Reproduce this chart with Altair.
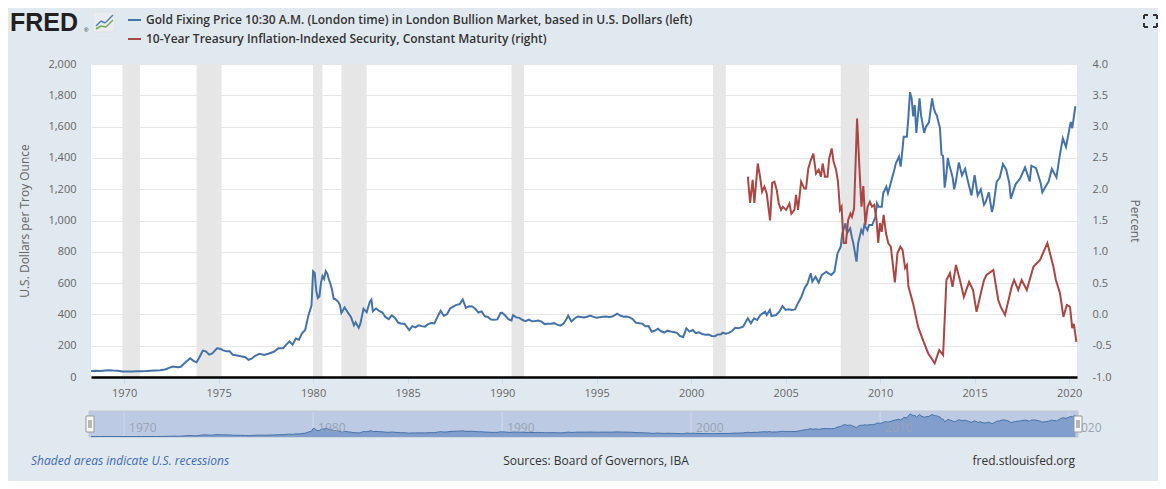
import altair as alt
import pandas as pd

# ---------------- data ----------------
gold_dates = [
    "1968-04", "1968-07", "1968-10",
    "1969-01", "1969-03", "1969-06", "1969-09", "1969-12",
    "1970-03", "1970-06", "1970-09", "1970-12",
    "1971-03", "1971-06", "1971-09", "1971-12",
    "1972-03", "1972-06", "1972-08", "1972-11",
    "1973-01", "1973-03", "1973-05", "1973-07", "1973-09", "1973-11",
    "1974-01", "1974-03", "1974-05", "1974-07", "1974-09", "1974-12",
    "1975-02", "1975-04", "1975-06", "1975-08", "1975-10", "1975-12",
    "1976-03", "1976-06", "1976-08", "1976-10", "1976-12",
    "1977-03", "1977-06", "1977-09", "1977-12",
    "1978-03", "1978-06", "1978-08", "1978-10", "1978-12",
    "1979-02", "1979-04", "1979-06", "1979-08", "1979-10", "1979-12",
    "1980-01", "1980-02", "1980-03", "1980-04", "1980-05", "1980-06",
    "1980-07", "1980-08", "1980-09", "1980-10", "1980-11", "1980-12",
    "1981-01", "1981-02", "1981-03", "1981-05", "1981-06", "1981-07", "1981-09", "1981-11",
    "1982-01", "1982-03", "1982-04", "1982-06", "1982-07", "1982-09", "1982-11",
    "1983-01", "1983-02", "1983-03", "1983-05", "1983-07", "1983-09", "1983-11",
    "1984-01", "1984-03", "1984-05", "1984-07", "1984-09", "1984-11",
    "1985-02", "1985-04", "1985-06", "1985-08", "1985-10", "1985-12",
    "1986-02", "1986-04", "1986-06", "1986-08", "1986-10", "1986-12",
    "1987-02", "1987-04", "1987-06", "1987-08", "1987-10", "1987-12",
    "1988-02", "1988-04", "1988-06", "1988-08", "1988-10", "1988-12",
    "1989-02", "1989-04", "1989-06", "1989-08", "1989-10", "1989-12",
    "1990-01", "1990-03", "1990-05", "1990-07", "1990-08", "1990-10", "1990-12",
    "1991-02", "1991-04", "1991-06", "1991-08", "1991-10", "1991-12",
    "1992-02", "1992-04", "1992-06", "1992-08", "1992-10", "1992-12",
    "1993-02", "1993-04", "1993-06", "1993-07", "1993-09", "1993-11",
    "1994-01", "1994-03", "1994-05", "1994-07", "1994-09", "1994-11",
    "1995-01", "1995-03", "1995-05", "1995-07", "1995-09", "1995-11",
    "1996-02", "1996-04", "1996-06", "1996-08", "1996-10", "1996-12",
    "1997-02", "1997-04", "1997-06", "1997-08", "1997-10", "1997-12",
    "1998-02", "1998-04", "1998-06", "1998-08", "1998-10", "1998-12",
    "1999-02", "1999-04", "1999-06", "1999-08", "1999-10", "1999-12",
    "2000-02", "2000-04", "2000-06", "2000-08", "2000-10", "2000-12",
    "2001-02", "2001-04", "2001-06", "2001-08", "2001-09", "2001-11",
    "2002-01", "2002-03", "2002-05", "2002-07", "2002-10",
    "2003-01", "2003-03", "2003-05", "2003-07", "2003-09", "2003-12",
    "2004-01", "2004-03", "2004-04", "2004-07", "2004-09", "2004-11",
    "2005-01", "2005-03", "2005-05", "2005-07", "2005-09", "2005-11",
    "2006-01", "2006-03", "2006-05", "2006-06", "2006-08", "2006-10", "2006-12",
    "2007-03", "2007-04", "2007-06", "2007-08", "2007-10", "2007-12",
    "2008-01", "2008-03", "2008-04", "2008-06", "2008-07", "2008-08", "2008-10", "2008-11",
    "2009-01", "2009-02", "2009-03", "2009-05", "2009-06", "2009-08", "2009-10", "2009-11", "2009-12",
    "2010-02", "2010-03", "2010-05", "2010-06", "2010-08", "2010-10", "2010-11",
    "2011-01", "2011-02", "2011-03", "2011-04", "2011-06", "2011-07",
    "2011-08", "2011-09", "2011-10", "2011-11", "2011-12",
    "2012-02", "2012-03", "2012-05", "2012-06", "2012-08", "2012-10", "2012-11", "2012-12",
    "2013-01", "2013-02", "2013-03", "2013-04", "2013-05", "2013-06",
    "2013-07", "2013-08", "2013-09", "2013-10", "2013-11", "2013-12",
    "2014-01", "2014-03", "2014-05", "2014-07", "2014-09", "2014-11",
    "2015-01", "2015-03", "2015-05", "2015-07", "2015-08", "2015-10", "2015-12",
    "2016-01", "2016-03", "2016-05", "2016-07", "2016-09", "2016-11", "2016-12",
    "2017-03", "2017-06", "2017-09", "2017-12",
    "2018-01", "2018-04", "2018-07", "2018-08", "2018-10", "2018-12",
    "2019-02", "2019-05", "2019-07", "2019-09", "2019-11",
    "2020-02", "2020-03", "2020-05",
]
gold_values = [
    38, 40, 39,
    42, 43, 41, 40, 35,
    35, 35, 36, 37,
    38, 40, 42, 43,
    48, 60, 67, 63,
    65, 84, 102, 120, 103, 94,
    130, 168, 164, 143, 151, 183,
    180, 170, 164, 165, 142, 139,
    132, 126, 110, 117, 134,
    148, 141, 150, 161,
    183, 183, 207, 227, 207,
    246, 238, 279, 300, 392, 456,
    675, 665, 553, 505, 514, 600,
    645, 627, 677, 661, 623, 595,
    557, 500, 499, 480, 461, 409, 444, 413,
    384, 330, 350, 315, 339, 435, 414,
    481, 495, 420, 438, 422, 412, 382,
    370, 394, 377, 348, 341, 341,
    300, 325, 317, 330, 325, 322,
    338, 345, 343, 384, 423, 391,
    401, 438, 450, 461, 465, 496,
    442, 452, 451, 436, 412, 419,
    388, 384, 367, 366, 368, 409,
    410, 393, 369, 362, 395, 381, 378,
    364, 357, 367, 356, 358, 361,
    354, 338, 340, 340, 344, 335,
    328, 342, 372, 392, 355, 374,
    387, 384, 381, 385, 392, 384,
    379, 382, 385, 386, 383, 386,
    405, 393, 385, 387, 381, 369,
    346, 344, 341, 324, 325, 289,
    297, 308, 292, 284, 296, 291,
    287, 282, 262, 256, 311, 290,
    300, 280, 285, 275, 270, 272,
    262, 261, 271, 273, 283, 276,
    282, 294, 314, 311, 321,
    375, 343, 375, 364, 396, 417,
    396, 428, 390, 396, 417, 453,
    428, 432, 428, 432, 475, 513,
    567, 599, 663, 609, 641, 603, 652,
    673, 663, 652, 673, 790, 833,
    918, 982, 918, 950, 897, 854, 737, 854,
    939, 918, 971, 939, 971, 971, 1024, 1110, 1088,
    1088, 1174, 1216, 1174, 1248, 1323, 1365,
    1408, 1344, 1429, 1535, 1535, 1663,
    1820, 1780, 1665, 1738, 1560,
    1780, 1673, 1560, 1596, 1627, 1780, 1721, 1688,
    1671, 1627, 1593, 1420, 1414, 1210,
    1286, 1400, 1349, 1316, 1275, 1200,
    1244, 1370, 1288, 1330, 1239, 1160,
    1290, 1160, 1199, 1100, 1117, 1180, 1055,
    1097, 1246, 1275, 1360, 1326, 1238, 1140,
    1231, 1270, 1340, 1250,
    1350, 1334, 1238, 1180, 1215, 1250,
    1330, 1275, 1410, 1525, 1470,
    1630, 1590, 1730,
]

tips_dates = [
    "2003-01-01", "2003-02-14", "2003-04-04", "2003-05-07", "2003-07-12", "2003-08-25",
    "2003-10-04", "2003-11-17",
    "2004-01-01", "2004-03-06", "2004-04-15", "2004-05-29", "2004-07-12", "2004-08-21",
    "2004-10-04", "2004-11-07",
    "2005-01-11", "2005-03-14", "2005-04-22", "2005-06-20", "2005-07-20", "2005-08-29",
    "2005-10-27", "2005-12-28",
    "2006-01-30", "2006-03-14", "2006-05-04", "2006-06-20", "2006-08-10", "2006-10-01",
    "2006-11-14", "2006-12-17",
    "2007-01-30", "2007-03-21", "2007-04-22", "2007-06-10", "2007-07-15", "2007-09-02",
    "2007-10-09", "2007-11-17", "2007-12-17",
    "2008-01-26", "2008-03-10", "2008-04-23", "2008-06-06", "2008-07-05", "2008-08-15",
    "2008-10-12", "2008-11-25",
    "2009-01-05", "2009-02-10", "2009-03-21", "2009-05-04", "2009-06-17", "2009-07-27",
    "2009-09-09", "2009-10-23", "2009-11-25", "2009-12-28",
    "2010-01-30", "2010-03-10", "2010-04-23", "2010-06-06", "2010-07-27", "2010-10-12",
    "2010-12-02",
    "2011-01-26", "2011-03-10", "2011-04-27", "2011-06-02", "2011-07-01", "2011-09-28",
    "2012-01-05", "2012-04-08", "2012-07-16", "2012-11-20",
    "2013-02-15", "2013-05-01", "2013-07-05", "2013-09-10", "2013-10-31",
    "2014-01-05", "2014-03-22", "2014-06-07", "2014-09-16", "2014-12-01",
    "2015-02-07", "2015-05-15", "2015-07-01", "2015-08-18", "2015-12-28",
    "2016-04-01", "2016-05-20", "2016-08-10", "2016-12-16",
    "2017-02-01", "2017-04-22", "2017-06-28", "2017-10-05",
    "2018-02-10", "2018-06-18", "2018-11-06",
    "2019-03-03", "2019-04-20", "2019-07-08", "2019-09-12", "2019-11-17",
    "2020-01-18", "2020-03-01", "2020-04-01", "2020-05-20",
]
tips_values = [
    2.20, 1.78, 2.15, 1.78, 2.41, 2.20,
    1.96, 2.04,
    1.93, 1.50, 2.10, 2.12, 1.99, 1.77,
    1.67, 1.72,
    1.67, 1.77, 1.61, 1.67, 1.91, 1.67,
    2.12, 2.01,
    2.01, 2.33, 2.47, 2.57, 2.25, 2.31,
    2.20, 2.41,
    2.20, 2.20, 2.49, 2.65, 2.44, 2.31,
    2.12, 1.67, 1.72,
    1.14, 1.14, 1.51, 1.61, 1.56, 1.69,
    3.13, 2.36,
    1.72, 2.05, 1.43, 1.72, 1.80, 1.72,
    1.75, 1.51, 1.14, 1.46,
    1.32, 1.59, 1.30, 1.14, 1.08, 0.51,
    0.98,
    1.08, 1.03, 0.74, 0.79, 0.45, 0.18,
    -0.20, -0.41, -0.62, -0.78,
    -0.57, -0.65, 0.55, 0.66, 0.44,
    0.79, 0.55, 0.28, 0.52, 0.39,
    0.04, 0.39, 0.55, 0.63, 0.71,
    0.23, 0.12, -0.01, 0.44,
    0.55, 0.39, 0.55, 0.39,
    0.76, 0.87, 1.14,
    0.76, 0.55, 0.34, -0.04, 0.15,
    0.12, -0.22, -0.15, -0.44,
]

rec_start = ["1969-12-01", "1973-11-01", "1980-01-01", "1981-07-01", "1990-07-01", "2001-03-01", "2007-12-01"]
rec_end = ["1970-11-01", "1975-03-01", "1980-07-01", "1982-11-01", "1991-03-01", "2001-11-01", "2009-06-01"]

axis_years = [1970, 1975, 1980, 1985, 1990, 1995, 2000, 2005, 2010, 2015, 2020]
nav_years = [1970, 1980, 1990, 2000, 2010, 2020]
gold_ticks = [0, 200, 400, 600, 800, 1000, 1200, 1400, 1600, 1800, 2000]
pct_ticks = [-1.0, -0.5, 0.0, 0.5, 1.0, 1.5, 2.0, 2.5, 3.0, 3.5, 4.0]

assert len(gold_dates) == len(gold_values)
assert len(tips_dates) == len(tips_values)

gold_df = pd.DataFrame({"date": pd.to_datetime(gold_dates), "value": gold_values})
tips_df = pd.DataFrame({"date": pd.to_datetime(tips_dates), "pct": tips_values})
rec_df = pd.DataFrame({"date": pd.to_datetime(rec_start), "end": pd.to_datetime(rec_end)})
nav_df = pd.DataFrame({"date": pd.to_datetime([f"{y}-01-01" for y in nav_years]),
                       "label": [str(y) for y in nav_years]})

# ---------------- styling ----------------
W, H = 986, 313
BG = "#E1E9F0"
FONT = "Open Sans"
BLUE = "#4572A7"
RED = "#AA4643"

xscale = alt.Scale(domain=[alt.DateTime(year=1968, month=4, date=1),
                           alt.DateTime(year=2020, month=6, date=1)])
xaxis = alt.Axis(values=[alt.DateTime(year=y, month=1, date=1) for y in axis_years],
                 format="%Y", title=None, grid=False, labelFlush=False,
                 domainColor="#000000", domainWidth=2.5, tickColor="#ccd6eb", tickSize=6,
                 labelPadding=4, labelColor="#666666", labelFontSize=11, labelFont=FONT, zindex=1)


def X(field="date:T"):
    return alt.X(field, scale=xscale, axis=xaxis, title=None)


recess = alt.Chart(rec_df).mark_rect(color="#e6e6e6").encode(
    x=X(), x2="end:T", y=alt.value(0), y2=alt.value(H))

gold = alt.Chart(gold_df).mark_line(color=BLUE, strokeWidth=2).encode(
    x=X(),
    y=alt.Y("value:Q", scale=alt.Scale(domain=[0, 2000], nice=False, zero=False),
            axis=alt.Axis(orient="left", values=gold_ticks, format=",.0f",
                          title="U.S. Dollars per Troy Ounce", titleX=-67, titleY=H / 2,
                          titleAngle=-90, titleBaseline="middle", titleAlign="center",
                          titleColor="#666666", titleFontSize=12, titleFontWeight="normal",
                          titleFont=FONT, grid=True, gridColor="#e6e6e6", domain=False,
                          ticks=False, labelPadding=15, labelColor="#666666",
                          labelFontSize=11, labelFont=FONT)))

tips = alt.Chart(tips_df).mark_line(color=RED, strokeWidth=2).encode(
    x=X(),
    y=alt.Y("pct:Q", scale=alt.Scale(domain=[-1, 4], nice=False, zero=False),
            axis=alt.Axis(orient="right", values=pct_ticks,
                          labelExpr="replace(format(datum.value, '.1f'), '\u2212', '-')",
                          title="Percent", titleX=57, titleY=H / 2, titleAngle=90,
                          titleBaseline="middle", titleAlign="center",
                          titleColor="#666666", titleFontSize=12, titleFontWeight="normal",
                          titleFont=FONT, grid=False, domain=False, ticks=False,
                          labelPadding=15, labelColor="#666666", labelFontSize=11,
                          labelFont=FONT)))


def one():
    return alt.Chart(pd.DataFrame({"k": [0]}))


def box(x1, x2, y1, y2, **kw):
    return one().mark_rect(**kw).encode(x=alt.value(x1), x2=alt.value(x2),
                                        y=alt.value(y1), y2=alt.value(y2))


def seg(x1, y1, x2, y2, color, width=1.5):
    return one().mark_rule(color=color, strokeWidth=width).encode(
        x=alt.value(x1), x2=alt.value(x2), y=alt.value(y1), y2=alt.value(y2))


def label(text, x, y, **kw):
    return alt.Chart(pd.DataFrame({"t": [text]})).mark_text(**kw).encode(
        x=alt.value(x), y=alt.value(y), text="t:N")


# navigator
NAV_TOP, NAV_BOT = 347, 373
nav_bg = box(-2, 987, NAV_TOP, NAV_BOT, fill="#bccae3", stroke="#c0c6d0", strokeWidth=1)
nav_ticks = alt.Chart(nav_df).mark_rule(color="#d3dcee", strokeWidth=1).encode(
    x=X(), y=alt.value(NAV_TOP + 1), y2=alt.value(NAV_BOT - 1))
nav_area = alt.Chart(gold_df).mark_area(color="#829ecc", opacity=1,
                                        line={"color": BLUE, "strokeWidth": 1}).encode(
    x=X(),
    y=alt.Y("value:Q", scale=alt.Scale(domain=[0, 1900], range=[NAV_BOT, NAV_TOP + 2], nice=False),
            axis=None))
nav_labels = alt.Chart(nav_df).mark_text(align="left", baseline="middle", dx=5, font=FONT,
                                         fontSize=12, color="#9aa3b3").encode(
    x=X(), y=alt.value(364), text="label:N")
handles = [
    box(-5, 3, 352, 368, fill="#f7f7f7", stroke="#999999", strokeWidth=1),
    seg(-2, 356, -2, 364, "#777777", 1), seg(0, 356, 0, 364, "#777777", 1),
    box(983, 991, 352, 368, fill="#f7f7f7", stroke="#999999", strokeWidth=1),
    seg(986, 356, 986, 364, "#777777", 1), seg(988, 356, 988, 364, "#777777", 1),
]

# header: logo + legend
header = [
    label("FRED", -81, -41, font="Liberation Sans", fontSize=25, fontWeight="bold",
          color="#231f20", align="left", baseline="middle"),
    label("®", -7, -34, font="Liberation Sans", fontSize=6, color="#231f20", align="left",
          baseline="middle"),
    box(2, 24, -52, -32, fill="#e9edf1", stroke="#d4d9de", strokeWidth=0.5),
    seg(5, -38, 10, -43, "#4f7fbf"), seg(10, -43, 14, -41, "#4f7fbf"), seg(14, -41, 22, -49, "#4f7fbf"),
    seg(5, -35, 10, -38, "#79a94a"), seg(10, -38, 15, -37, "#79a94a"), seg(15, -37, 22, -44, "#79a94a"),
    seg(37, -44, 50, -44, BLUE, 2),
    label("Gold Fixing Price 10:30 A.M. (London time) in London Bullion Market, based in U.S. Dollars (left)",
          55, -44, font=FONT, fontSize=12, fontWeight=600, color="#333333", align="left",
          baseline="middle"),
    seg(37, -25, 50, -25, RED, 2),
    label("10-Year Treasury Inflation-Indexed Security, Constant Maturity (right)",
          55, -25, font=FONT, fontSize=12, fontWeight=600, color="#333333", align="left",
          baseline="middle"),
]

# full-screen icon (top right)
FX1, FX2, FY1, FY2, L = 1053, 1066, -49, -37, 4
fs_icon = [
    seg(FX1, FY1, FX1 + L, FY1, "#333333", 2), seg(FX1, FY1, FX1, FY1 + L, "#333333", 2),
    seg(FX2 - L, FY1, FX2, FY1, "#333333", 2), seg(FX2, FY1, FX2, FY1 + L, "#333333", 2),
    seg(FX1, FY2, FX1 + L, FY2, "#333333", 2), seg(FX1, FY2 - L, FX1, FY2, "#333333", 2),
    seg(FX2 - L, FY2, FX2, FY2, "#333333", 2), seg(FX2, FY2 - L, FX2, FY2, "#333333", 2),
]

footer = [
    label("Shaded areas indicate U.S. recessions", -60, 397, font=FONT, fontSize=12,
          fontStyle="italic", color="#3c6bb0", align="left", baseline="middle"),
    label("Sources: Board of Governors, IBA", 505, 397, font=FONT, fontSize=12,
          color="#333333", align="center", baseline="middle"),
    label("fred.stlouisfed.org", 984, 397, font=FONT, fontSize=12, color="#333333",
          align="right", baseline="middle"),
]

chart = alt.layer(
    recess, gold, tips, nav_bg, nav_ticks, nav_area, nav_labels, *handles,
    *header, *fs_icon, *footer
).resolve_scale(y="independent").properties(
    width=W, height=H,
    autosize=alt.AutoSizeParams(type="none"),
    padding={"left": 83, "top": 56, "right": 81, "bottom": 104},
    background=BG,
).configure_view(fill="white", stroke=None).configure_text(font=FONT)

chart.save("out.html", embed_options={"renderer": "svg", "actions": False})
